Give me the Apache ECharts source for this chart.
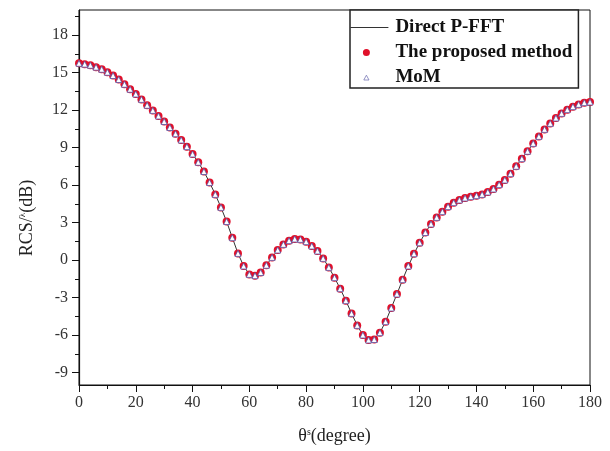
<!DOCTYPE html>
<html>
<head>
<meta charset="utf-8">
<script src="https://cdn.jsdelivr.net/npm/echarts@6/dist/echarts.min.js"></script>
<style>html,body{margin:0;padding:0;background:#fff}#c{width:610px;height:451px}</style>
</head>
<body>
<div id="c"></div>
<script>
const thetaDeg = [0,2,4,6,8,10,12,14,16,18,20,22,24,26,28,30,32,34,36,38,40,42,44,46,48,50,52,54,56,58,60,62,64,66,68,70,72,74,76,78,80,82,84,86,88,90,92,94,96,98,100,102,104,106,108,110,112,114,116,118,120,122,124,126,128,130,132,134,136,138,140,142,144,146,148,150,152,154,156,158,160,162,164,166,168,170,172,174,176,178,180];
const directPFFT = [15.74,15.67,15.58,15.43,15.26,15.02,14.76,14.44,14.06,13.66,13.28,12.85,12.38,11.97,11.52,11.08,10.6,10.1,9.6,9.07,8.48,7.82,7.08,6.2,5.25,4.21,3.08,1.79,0.53,-0.48,-1.15,-1.25,-1.0,-0.42,0.21,0.8,1.25,1.55,1.68,1.65,1.47,1.12,0.72,0.13,-0.59,-1.41,-2.29,-3.25,-4.27,-5.23,-6.0,-6.4,-6.36,-5.81,-4.93,-3.84,-2.72,-1.57,-0.48,0.5,1.38,2.2,2.88,3.41,3.87,4.27,4.59,4.8,4.96,5.07,5.15,5.25,5.44,5.68,6.03,6.4,6.91,7.5,8.11,8.7,9.33,9.89,10.45,10.93,11.36,11.73,12.03,12.27,12.45,12.59,12.64];
const proposedMethod = directPFFT.slice();
const mom = directPFFT.slice();
const yMajorTicks = [-9,-6,-3,0,3,6,9,12,15,18];
const yMinorTicks = [-7.5,-4.5,-1.5,1.5,4.5,7.5,10.5,13.5,16.5,19.5];
const seriesNames = ['Direct P-FFT','The proposed method','MoM'];

const pair = a => thetaDeg.map((t,i)=>[t,a[i]]);
const serif = 'Liberation Serif';
const pad = 'M0,0L0,0ZM40,7L40,7Z';
const iconLine = 'path://M0,3L38,3L38,4L0,4Z' + pad;
const iconDot = 'path://' + pad + 'M12.5,3.5A3.5,3.5 0 1 1 19.5,3.5A3.5,3.5 0 1 1 12.5,3.5Z';
const iconTri = 'path://' + pad + 'M16,1.2L18.6,6L13.4,6Z';
const chart = echarts.init(document.getElementById('c'), null, {renderer:'canvas'});
chart.setOption({
  animation:false,
  backgroundColor:'#fff',
  grid:{left:79,right:20,top:10,bottom:66,show:true,borderColor:'#111',borderWidth:1,backgroundColor:'transparent'},
  legend:{
    orient:'vertical',left:350,top:10,
    padding:[8,6,1,0],itemGap:6,itemWidth:40,itemHeight:7,
    backgroundColor:'#fff',borderColor:'#222',borderWidth:1.5,
    textStyle:{fontFamily:serif,fontWeight:'bold',fontSize:19,color:'#111',lineHeight:19},
    data:[
      {name:seriesNames[0],icon:iconLine},
      {name:seriesNames[1],icon:iconDot},
      {name:seriesNames[2],icon:iconTri,itemStyle:{color:'#fff',borderColor:'#7a7ab8',borderWidth:0.8}}
    ]
  },
  xAxis:{
    type:'value',min:0,max:180,interval:20,
    name:'{a|θ}{s|s}{a|(degree)}',nameLocation:'middle',nameGap:42,
    nameTextStyle:{rich:{a:{fontFamily:serif,fontSize:18,color:'#222'},s:{fontFamily:serif,fontSize:10,color:'#222',verticalAlign:'top',lineHeight:12}}},
    axisLine:{onZero:false,lineStyle:{color:'#111',width:1.2}},
    axisTick:{length:7,lineStyle:{color:'#111'}},
    minorTick:{show:true,splitNumber:2,length:4,lineStyle:{color:'#111'}},
    axisLabel:{fontFamily:serif,fontSize:16,color:'#333',margin:10},
    splitLine:{show:false}
  },
  yAxis:[{
    type:'value',min:-10,max:20,
    axisLine:{show:true,onZero:false,lineStyle:{color:'#111',width:1.2}},
    axisTick:{show:true,length:7,customValues:yMajorTicks,lineStyle:{color:'#111'}},
    axisLabel:{fontFamily:serif,fontSize:16,color:'#333',margin:11,customValues:yMajorTicks},
    splitLine:{show:false}
  },{
    type:'value',min:-10,max:20,position:'left',
    axisLine:{show:false,onZero:false},
    axisTick:{show:true,length:4,customValues:yMinorTicks,lineStyle:{color:'#111'}},
    axisLabel:{show:false},
    splitLine:{show:false}
  }],
  graphic:[{
    type:'text',x:27,y:218,rotation:Math.PI/2,
    style:{text:'{a|RCS/}{s|λ}{a|(dB)}',textAlign:'center',textVerticalAlign:'middle',
      rich:{a:{fontFamily:serif,fontSize:18,fill:'#222'},s:{fontFamily:serif,fontSize:9,fill:'#222',verticalAlign:'top',lineHeight:12}}}
  }],
  series:[{
    name:seriesNames[0],type:'line',data:pair(directPFFT),showSymbol:false,symbol:'none',
    lineStyle:{color:'#333',width:1},itemStyle:{color:'#333'},z:1
  },{
    name:seriesNames[1],type:'scatter',data:pair(proposedMethod),symbol:'circle',symbolSize:8,
    itemStyle:{color:'#e0102a',opacity:1},z:2
  },{
    name:seriesNames[2],type:'scatter',data:pair(mom),symbol:'triangle',symbolSize:6,
    itemStyle:{color:'#fff',borderColor:'#5a5aa8',borderWidth:0.8,opacity:1},z:3
  }]
});
</script>
</body>
</html>
